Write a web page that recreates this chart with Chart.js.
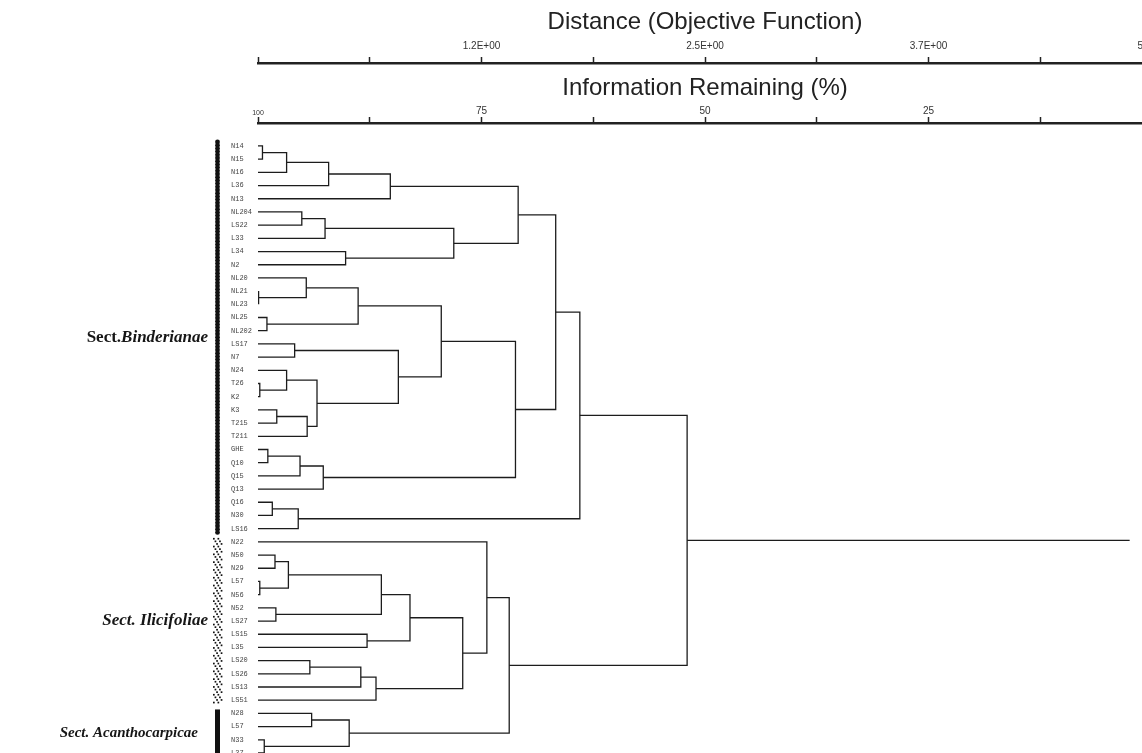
<!DOCTYPE html>
<html>
<head>
<meta charset="utf-8">
<script src="https://cdn.jsdelivr.net/npm/chart.js@4.4.0/dist/chart.umd.min.js"></script>
<style>
html,body{margin:0;padding:0;background:#fff;overflow:hidden;}
#wrap{width:1172px;height:770px;position:relative;}
</style>
</head>
<body>
<div id="wrap"><canvas id="dendro"></canvas></div>
<script>
// leaves, top to bottom
var leafLabels = ["N14","N15","N16","L36","N13","NL204","LS22","L33","L34","N2",
    "NL20","NL21","NL23","NL25","NL202","LS17","N7","N24","T26","K2",
    "K3","T215","T211","GHE","Q10","Q15","Q13","Q16","N30","LS16",
    "N22","N50","N29","L57","N56","N52","LS27","LS15","L35","LS20",
    "LS26","LS13","LS51","N28","L57","N33","L37"];

// merges: [cluster, left, right, information remaining %]  (numbers = leaf index)
var merges = [
    ["a1",0,1,99.5], ["a2","a1",2,96.8], ["a3","a2",3,92.1], ["A1","a3",4,85.2],
    ["a4",5,6,95.1], ["a5","a4",7,92.5], ["a6",8,9,90.2], ["A2","a5","a6",78.1],
    ["A","A1","A2",70.9],
    ["b1",11,12,99.9], ["b2",10,"b1",94.6], ["b3",13,14,99.0], ["B1","b2","b3",88.8],
    ["b4",15,16,95.9], ["b5",18,19,99.8], ["b6",17,"b5",96.8], ["b7",20,21,97.9],
    ["b8","b7",22,94.5], ["b9","b6","b8",93.4], ["B2","b4","b9",84.3],
    ["B","B1","B2",79.5],
    ["c1",23,24,98.9], ["c2","c1",25,95.3], ["C","c2",26,92.7],
    ["BC","B","C",71.2], ["T1","A","BC",66.7],
    ["d1",27,28,98.4], ["D","d1",29,95.5], ["TOP","T1","D",64.0],
    ["e1",31,32,98.1], ["e2",33,34,99.8], ["e3","e1","e2",96.6], ["e4",35,36,98.0],
    ["E1","e3","e4",86.2], ["e5",37,38,87.8], ["I1","E1","e5",83.0],
    ["f1",39,40,94.2], ["f2","f1",41,88.5], ["I2","f2",42,86.8],
    ["I12","I1","I2",77.1], ["I",30,"I12",74.4],
    ["g1",43,44,94.0], ["g2",45,46,99.3], ["Ac","g1","g2",89.8],
    ["IA","I","Ac",71.9],
    ["ROOT","TOP","IA",52.0]
];
var rootEnd = 2.5;

var infoTickValues = [100,75,50,25,0];
var infoTickText = ["100","75","50","25","0"];
var distTickText = ["","1.2E+00","2.5E+00","3.7E+00","5E+00"];

var sectionNames = ["Binderianae","Ilicifoliae","Acanthocarpicae"];
var sectionFrom = [0,30,43];
var sectionTo = [29,42,46];

var nodeY = {}, nodeH = {};
function yOf(k){ return typeof k === "number" ? k : nodeY[k]; }
function hOf(k){ return typeof k === "number" ? 100 : nodeH[k]; }

var datasets = [];
for (let i=0; i<merges.length; i++){
    let m = merges[i];
    nodeY[m[0]] = (yOf(m[1]) + yOf(m[2])) / 2;
    nodeH[m[0]] = m[3];
    datasets.push({data:[
        {x:hOf(m[1]), y:yOf(m[1])}, {x:m[3], y:yOf(m[1])},
        {x:m[3], y:yOf(m[2])}, {x:hOf(m[2]), y:yOf(m[2])}
    ]});
}
var rootId = merges[merges.length-1][0];
datasets.push({data:[{x:nodeH[rootId], y:nodeY[rootId]}, {x:rootEnd, y:nodeY[rootId]}]});
datasets.forEach(function(d){
    d.showLine = true; d.borderColor = "#1c1c1c"; d.borderWidth = 1.3;
    d.pointRadius = 0; d.fill = false; d.xAxisID = "info"; d.yAxisID = "y";
});

function axisTicks(scale){
    let t = [];
    for (let i=0; i<infoTickValues.length; i++){
        t.push({value:infoTickValues[i]});
        if (i < infoTickValues.length-1) t.push({value:(infoTickValues[i]+infoTickValues[i+1])/2});
    }
    scale.ticks = t;
}

var sectionPlugin = {
    id:"sections",
    afterDraw:function(chart){
        let ctx = chart.ctx, ys = chart.scales.y;
        ctx.save();
        for (let i=0; i<sectionNames.length; i++){
            let top = ys.getPixelForValue(sectionFrom[i]-0.3);
            let bot = ys.getPixelForValue(sectionTo[i]+0.3);
            ctx.fillStyle = "#111";
            if (i == 0){
                for (let y=top; y<bot; y+=3.2){
                    ctx.beginPath(); ctx.arc(217.5, y, 2.4, 0, Math.PI*2); ctx.fill();
                }
            } else if (i == 1){
                let k = 0;
                for (let y=top; y<bot; y+=2.6){
                    let off = (k % 3) * 1.6;
                    ctx.fillRect(213+off, y, 1.7, 1.7);
                    ctx.fillRect(217.5+off, y, 1.7, 1.7);
                    k++;
                }
            } else {
                ctx.fillRect(215, top, 5, bot-top+30);
            }
            let mid = ys.getPixelForValue((sectionFrom[i]+sectionTo[i])/2);
            let size = i == 2 ? 15 : 17;
            let right = i == 2 ? 198 : 208;
            let pre = i == 0 ? "Sect." : "Sect. ";
            let preFont = (i == 0 ? "bold " : "italic bold ") + size + "px 'Liberation Serif'";
            let nameFont = "italic bold " + size + "px 'Liberation Serif'";
            ctx.font = preFont; let w1 = ctx.measureText(pre).width;
            ctx.font = nameFont; let w2 = ctx.measureText(sectionNames[i]).width;
            ctx.textBaseline = "middle"; ctx.textAlign = "left";
            ctx.fillStyle = "#161616";
            ctx.font = preFont; ctx.fillText(pre, right-w1-w2, mid);
            ctx.font = nameFont; ctx.fillText(sectionNames[i], right-w2, mid);
        }
        ctx.restore();
    }
};

var dendro = new Chart(document.getElementById("dendro"), {
    type:"scatter",
    data:{datasets:datasets},
    plugins:[sectionPlugin],
    options:{
        responsive:true,
        maintainAspectRatio:false,
        animation:false,
        layout:{padding:{left:231, right:20, top:0, bottom:0}},
        plugins:{legend:{display:false}, tooltip:{enabled:false}},
        scales:{
            dist:{
                type:"linear", axis:"x", position:"top", min:0, max:100, reverse:true, weight:2,
                afterBuildTicks:axisTicks,
                afterFit:function(s){ s.height = 63; },
                grid:{drawOnChartArea:false, drawTicks:true, tickLength:6, tickWidth:1.5, tickColor:"#222"},
                border:{display:true, color:"#222", width:2.5},
                ticks:{autoSkip:false, maxRotation:0, padding:5, color:"#333",
                    font:{family:"Liberation Sans", size:10},
                    callback:function(v){ let i = infoTickValues.indexOf(v); return i < 0 ? "" : distTickText[i]; }},
                title:{display:true, text:"Distance (Objective Function)", color:"#222",
                    font:{family:"Liberation Sans", size:24}, padding:{top:8, bottom:0}}
            },
            info:{
                type:"linear", axis:"x", position:"top", min:0, max:100, reverse:true, weight:1,
                afterBuildTicks:axisTicks,
                afterFit:function(s){ s.height = 60; },
                grid:{drawOnChartArea:false, drawTicks:true, tickLength:6, tickWidth:1.5, tickColor:"#222"},
                border:{display:true, color:"#222", width:2.5},
                ticks:{autoSkip:false, maxRotation:0, padding:0, color:"#333",
                    font:function(c){ return {family:"Liberation Sans", size:(c.tick && c.tick.value == 100) ? 7 : 10}; },
                    callback:function(v){ let i = infoTickValues.indexOf(v); return i < 0 ? "" : infoTickText[i]; }},
                title:{display:true, text:"Information Remaining (%)", color:"#222",
                    font:{family:"Liberation Sans", size:24}, padding:{top:11, bottom:0}}
            },
            y:{
                type:"linear", position:"left", reverse:true, min:-1.74, max:46.97,
                afterBuildTicks:function(s){ s.ticks = leafLabels.map(function(l,i){ return {value:i}; }); },
                afterFit:function(s){ s.width = 27; },
                grid:{display:false},
                border:{display:false},
                ticks:{autoSkip:false, crossAlign:"far", padding:0, color:"#444",
                    font:{family:"Liberation Mono", size:7},
                    callback:function(v){ return leafLabels[v] || ""; }}
            }
        }
    }
});
</script>
</body>
</html>
